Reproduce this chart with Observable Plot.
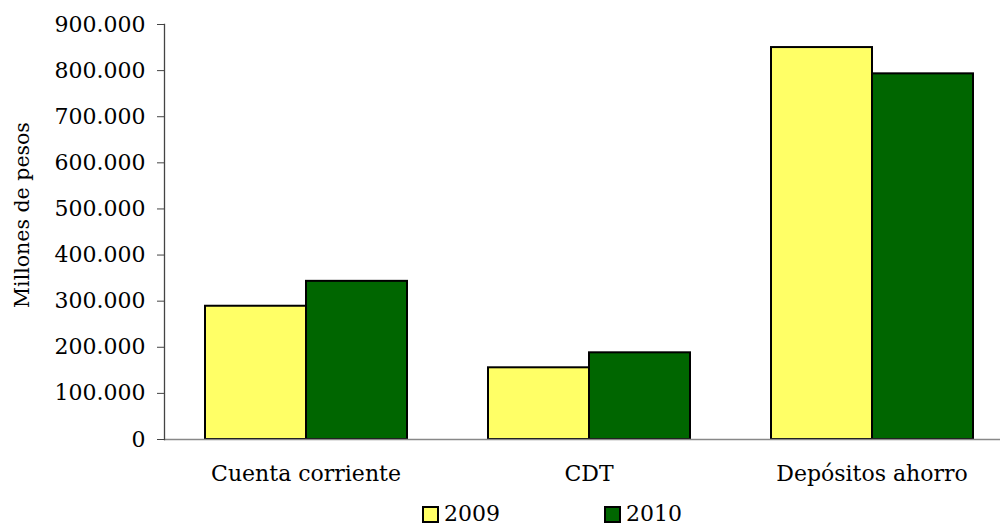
<!DOCTYPE html>
<html>
<head>
<meta charset="utf-8">
<script src="https://cdn.jsdelivr.net/npm/d3@7"></script>
<script src="https://cdn.jsdelivr.net/npm/@observablehq/plot@0.6"></script>
<style>
  html, body { margin: 0; padding: 0; background: #fff; }
  body { position: relative; width: 1000px; height: 526px; overflow: hidden; font-family: "DejaVu Serif", serif; }
  #legend { position: absolute; left: 422px; top: 504px; display: flex; align-items: center; font-size: 22px; color: #000; line-height: 20px; }
  #legend .item { display: flex; align-items: center; }
  #legend .sw { width: 13px; height: 13px; border: 2px solid #000; margin-right: 5px; }
  #ylabel { position: absolute; left: 22px; top: 215px; transform: translate(-50%, -50%) rotate(-90deg); font-size: 20.5px; white-space: nowrap; color: #000; }
</style>
</head>
<body>
<div id="chart"></div>
<div id="ylabel"></div>
<div id="legend"></div>
<script>
const categories = ["Cuenta corriente", "CDT", "Depósitos ahorro"];
const years = ["2009", "2010"];
const values2009 = [289000, 155500, 850000];
const values2010 = [343000, 188000, 793000];
const colors = ["#FFFF66", "#006600"];
const yTicks = [0, 100000, 200000, 300000, 400000, 500000, 600000, 700000, 800000, 900000];
const yLabel = "Millones de pesos";

const seriesByYear = {"2009": values2009, "2010": values2010};
const data = categories.flatMap((c, i) => years.map(y => ({category: c, year: y, value: seriesByYear[y][i]})));
const fmt = d => d3.format(",")(d).replace(/,/g, ".");

const chart = Plot.plot({
  width: 1000,
  height: 492,
  marginTop: 24,
  marginBottom: 53,
  marginLeft: 163,
  marginRight: 0,
  style: {fontFamily: "DejaVu Serif", fontSize: "22px", color: "#000", background: "#fff", overflow: "visible"},
  fx: {domain: categories, range: [163, 1013.5], padding: 0, label: null},
  x: {domain: years, paddingInner: 0, paddingOuter: 0.3966, axis: null},
  y: {domain: [0, 900000], label: null},
  color: {domain: years, range: colors},
  marks: [
    Plot.barY(data, {fx: "category", x: "year", y: "value", fill: "year", stroke: "#000", strokeWidth: 2}),
    Plot.ruleY([0], {stroke: "#888", strokeWidth: 1.5}),
    Plot.frame({anchor: "left", facetAnchor: "left", stroke: "#444", strokeWidth: 1.3}),
    Plot.axisY({ticks: yTicks, tickFormat: fmt, tickSize: 7, tickPadding: 12, stroke: "#444", label: null}),
    Plot.axisFx({anchor: "bottom", tickSize: 0, tickPadding: 26, label: null})
  ]
});
document.getElementById("chart").appendChild(chart);
document.getElementById("ylabel").textContent = yLabel;

const legend = document.getElementById("legend");
years.forEach((y, i) => {
  const item = document.createElement("div");
  item.className = "item";
  item.style.marginRight = i < years.length - 1 ? "104px" : "0";
  const sw = document.createElement("span");
  sw.className = "sw";
  sw.style.background = colors[i];
  const t = document.createElement("span");
  t.textContent = y;
  item.appendChild(sw);
  item.appendChild(t);
  legend.appendChild(item);
});
</script>
</body>
</html>
